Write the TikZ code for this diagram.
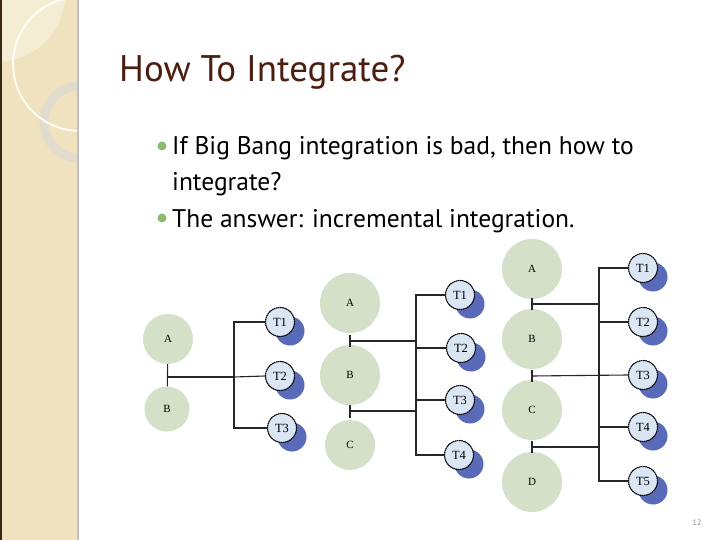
\documentclass[tikz,border=0pt]{standalone}
\usepackage{fontspec}
\setmainfont{PT Sans}
\newfontfamily\lab{Liberation Serif}
\begin{document}
\begin{tikzpicture}[x=1pt,y=-1pt,
  mod/.style={circle,fill=modgreen,draw=none,font=\lab\fontsize{11}{11}\selectfont},
  tst/.style={circle,fill=tblue,draw=black,dash pattern=on 1.6pt off 0.5pt,line width=1.1pt,minimum size=29pt,inner sep=0pt,font=\lab\fontsize{12.5}{12.5}\selectfont},
  sh/.style={fill=shblue},
  ln/.style={line width=1.1pt,black!85},
  bul/.style={circle,fill=bgreen,inner sep=0pt,minimum size=9pt}]
\definecolor{modgreen}{RGB}{212,224,200}
\definecolor{tblue}{RGB}{218,230,244}
\definecolor{shblue}{RGB}{88,106,184}
\definecolor{bgreen}{RGB}{138,186,110}
\definecolor{tan}{RGB}{240,226,190}
\definecolor{titlec}{RGB}{75,30,15}
\useasboundingbox (0,0) rectangle (720,540);
\fill[white] (0,0) rectangle (720,540);
% sidebar
\fill[tan] (0,0) rectangle (78,540);
\begin{scope}
\clip (0,0) rectangle (78,540);
\fill[white,opacity=0.35] (0,0) -- (0,62) .. controls (30,60) and (60,40) .. (65,0) -- cycle;
\draw[black!15,line width=9pt,opacity=0.6] (80,122) circle[radius=36];
\draw[white,line width=2pt,opacity=0.85] (80,64) circle[radius=67];
\end{scope}
\draw[black!70!brown,line width=1.5pt] (0.75,0) -- (0.75,540);
\draw[black!25,line width=1.2pt] (78,0) -- (78,540);
% title and bullets
\node[anchor=base west,text=titlec,font=\fontsize{37}{37}\selectfont,inner sep=0pt] (title) at (119,82) {How To Integrate?};
\node[bul] (b1) at (162,146) {};
\node[bul] (b2) at (162,218) {};
\node[anchor=base west,font=\fontsize{25.5}{25.5}\selectfont,inner sep=0pt] (t1) at (172,155) {If Big Bang integration is bad, then how to};
\node[anchor=base west,font=\fontsize{25.5}{25.5}\selectfont,inner sep=0pt] (t2) at (172,191) {integrate?};
\node[anchor=base west,font=\fontsize{25.5}{25.5}\selectfont,inner sep=0pt] (t3) at (172,227) {The answer: incremental integration.};
\node[text=black!45,font=\fontsize{8}{8}\selectfont] (pg) at (697,523) {12};
% ---------- left group
\node[mod,minimum size=50pt] (LA) at (168,339) {A};
\node[mod,minimum size=45pt] (LB) at (167,409) {B};
\fill[sh] (290,331) circle[radius=14.5]; \node[tst] (L1) at (280,322) {T1};
\fill[sh] (290,385) circle[radius=14.5]; \node[tst] (L2) at (280,376) {T2};
\fill[sh] (292,437) circle[radius=14.5]; \node[tst] (L3) at (282,428) {T3};
\coordinate (lj) at (168,377);
\coordinate (lb) at (234,377);
\draw[ln] (LA) -- (LB);
\draw[ln] (lj) -- (lb);
\draw[ln] (L1.west) -| (lb) |- (L3.west);
\draw[ln] (lb) -- (L2.west);
% ---------- middle group
\node[mod,minimum size=60pt] (MA) at (350,303) {A};
\node[mod,minimum size=60pt] (MB) at (350,375) {B};
\node[mod,minimum size=50pt] (MC) at (350,445) {C};
\fill[sh] (470,304) circle[radius=14.5]; \node[tst] (M1) at (460,295) {T1};
\fill[sh] (471,357) circle[radius=14.5]; \node[tst] (M2) at (461,348) {T2};
\fill[sh] (470,409) circle[radius=14.5]; \node[tst] (M3) at (460,400) {T3};
\fill[sh] (469,464) circle[radius=14.5]; \node[tst] (M4) at (459,455) {T4};
\coordinate (mj1) at (350,341); \coordinate (mj2) at (350,411);
\coordinate (mb1) at (416,341); \coordinate (mb2) at (416,411);
\draw[ln] (350,335) -- (350,347);
\draw[ln] (350,405) -- (350,418);
\draw[ln] (mj1) -- (mb1);
\draw[ln] (mj2) -- (mb2);
\draw[ln] (M1.west) -| (mb1) |- (M4.west);
\draw[ln] (mb1 |- M2.west) -- (M2.west);
\draw[ln] (mb1 |- M3.west) -- (M3.west);
% ---------- right group
\node[mod,minimum size=60pt] (RA) at (532,269) {A};
\node[mod,minimum size=60pt] (RB) at (532,339) {B};
\node[mod,minimum size=60pt] (RC) at (532,410) {C};
\node[mod,minimum size=60pt] (RD) at (532,482) {D};
\fill[sh] (653,277) circle[radius=14.5]; \node[tst] (R1) at (643,268) {T1};
\fill[sh] (653,331) circle[radius=14.5]; \node[tst] (R2) at (643,322) {T2};
\fill[sh] (653,384) circle[radius=14.5]; \node[tst] (R3) at (643,375) {T3};
\fill[sh] (653,436) circle[radius=14.5]; \node[tst] (R4) at (643,427) {T4};
\fill[sh] (653,490) circle[radius=14.5]; \node[tst] (R5) at (643,481) {T5};
\coordinate (rb) at (599,304); \coordinate (rb2) at (599,447);
\draw[ln] (532,298) -- (532,310);
\draw[ln] (532,370) -- (532,382);
\draw[ln] (532,441) -- (532,453);
\draw[ln] (532,304) -- (rb);
\draw[ln] (532,376) -- (R3.west);
\draw[ln] (532,447) -- (rb2);
\draw[ln] (R1.west) -| (rb) |- (R5.west);
\draw[ln] (rb |- R2.west) -- (R2.west);
\draw[ln] (rb |- R4.west) -- (R4.west);
\end{tikzpicture}
\end{document}
